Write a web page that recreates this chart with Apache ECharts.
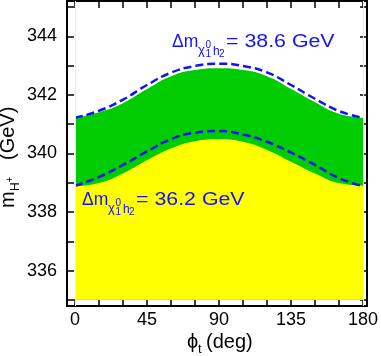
<!DOCTYPE html>
<html><head><meta charset="utf-8">
<script src="https://cdn.jsdelivr.net/npm/echarts@6/dist/echarts.min.js"></script>
<style>html,body{margin:0;padding:0;background:#fff}#c{width:381px;height:356px}</style>
</head><body><div id="c"></div>
<script>
// ---- data ----
const phi = [0, 15, 30, 45, 60, 75, 90, 105, 120, 135, 150, 165, 180];
const upperDashed = [341.22, 341.46, 341.84, 342.34, 342.76, 342.99, 343.07, 342.99, 342.77, 342.34, 341.87, 341.45, 341.22];
const greenTop    = [341.22, 341.41, 341.72, 342.20, 342.64, 342.85, 342.91, 342.85, 342.64, 342.21, 341.75, 341.36, 341.22];
const lowerDashed = [338.90, 339.20, 339.61, 340.07, 340.49, 340.71, 340.77, 340.65, 340.40, 340.03, 339.61, 339.16, 338.89];
const yellowTop   = [338.88, 338.99, 339.32, 339.77, 340.17, 340.42, 340.49, 340.40, 340.12, 339.72, 339.32, 338.99, 338.90];
const bandBase = 335;
const xTickLabels = [0, 45, 90, 135, 180];
const xTicks = [0, 15, 30, 45, 60, 75, 90, 105, 120, 135, 150, 165, 180];
const yTickLabels = [336, 338, 340, 342, 344];
const yTicks = [335, 336, 337, 338, 339, 340, 341, 342, 343, 344, 345];
const upperLabel = '38.6';
const lowerLabel = '36.2';

// ---- chart ----
const FONT = '"Liberation Sans", Arial, Helvetica, sans-serif';
const BLUE = '#1414ee';
const pairs = ys => phi.map((x, i) => [x, ys[i]]);

function xAxisDef(pos, labels) {
  return {
    type: 'value', position: pos, min: -5, max: 182.5,
    axisLine: { show: true, onZero: false, lineStyle: { color: '#000', width: 2 } },
    splitLine: { show: false },
    axisTick: { show: true, inside: true, length: 7, customValues: xTicks, lineStyle: { color: '#000', width: 1.5 } },
    axisLabel: labels ? { show: true, customValues: xTickLabels, margin: 5, color: '#000', fontSize: 18, fontFamily: FONT } : { show: false }
  };
}
function yAxisDef(pos, labels) {
  return {
    type: 'value', position: pos, min: 334.79, max: 345.21,
    axisLine: { show: true, onZero: false, lineStyle: { color: '#000', width: 2 } },
    splitLine: { show: false },
    axisTick: { show: true, inside: true, length: 7, customValues: yTicks, lineStyle: { color: '#000', width: 1.5 } },
    axisLabel: labels ? { show: true, customValues: yTickLabels, margin: 10, color: '#000', fontSize: 18, fontFamily: FONT } : { show: false }
  };
}

function txt(x, baseline, s, fs, extra) {
  return Object.assign({
    type: 'text', x: x, y: baseline - 0.35 * fs, silent: true, z: 100,
    style: { text: s, font: fs + 'px ' + FONT, fill: BLUE, align: 'left', verticalAlign: 'middle' }
  }, extra || {});
}
function annot(x0, b, val) {
  return [
    txt(x0, b, 'Δm', 17.5),
    txt(x0 + 26, b + 7, 'χ', 13),
    txt(x0 + 33.5, b + 1, '0', 10),
    txt(x0 + 33.5, b + 10, '1', 10),
    txt(x0 + 41, b + 8, 'h', 12),
    txt(x0 + 47, b + 10, '2', 10),
    txt(x0 + 54, b, '= ' + val + ' GeV', 17.5, { scaleX: 1.22 })
  ];
}
function blk(x, baseline, s, fs) {
  const t = txt(x, baseline, s, fs);
  t.style.fill = '#000';
  return t;
}

const SM = 0.5;
const chart = echarts.init(document.getElementById('c'), null, { renderer: 'canvas' });
chart.setOption({
  animation: false,
  backgroundColor: '#fff',
  grid: { left: 67, right: 11, top: 1, bottom: 50 },
  xAxis: [xAxisDef('bottom', true), xAxisDef('top', false)],
  yAxis: [yAxisDef('left', true), yAxisDef('right', false)],
  series: [
    {
      type: 'line', data: pairs(greenTop), smooth: SM, showSymbol: false, silent: true, z: 1,
      lineStyle: { width: 0, opacity: 0 },
      areaStyle: { color: '#00cc00', opacity: 1, origin: bandBase }
    },
    {
      type: 'line', data: pairs(yellowTop), smooth: SM, showSymbol: false, silent: true, z: 2,
      lineStyle: { width: 0, opacity: 0 },
      areaStyle: { color: '#ffff00', opacity: 1, origin: bandBase },
      markLine: {
        silent: true, symbol: 'none', label: { show: false },
        lineStyle: { color: '#e2f5d6', width: 1, type: 'solid' },
        data: [{ xAxis: 0 }, { xAxis: 180 }]
      }
    },
    {
      type: 'line', data: pairs(upperDashed), smooth: SM, showSymbol: false, silent: true, z: 3,
      lineStyle: { color: BLUE, width: 2.5, type: [8, 4] }
    },
    {
      type: 'line', data: pairs(lowerDashed), smooth: SM, showSymbol: false, silent: true, z: 3,
      lineStyle: { color: BLUE, width: 2.5, type: [8, 4] }
    }
  ],
  graphic: [
    ...annot(172, 48, upperLabel),
    ...annot(82, 206, lowerLabel),
    blk(187, 349, 'ϕ', 20),
    blk(198, 354, 't', 13),
    blk(206, 349, '(deg)', 20),
    {
      type: 'group', x: 15, y: 208, rotation: Math.PI / 2, silent: true, z: 100,
      children: [
        blk(0, 0, 'm', 20),
        blk(17, 5, 'H', 12),
        blk(25.5, -1, '+', 10),
        blk(48, 0, '(GeV)', 20)
      ]
    }
  ]
});
</script></body></html>
